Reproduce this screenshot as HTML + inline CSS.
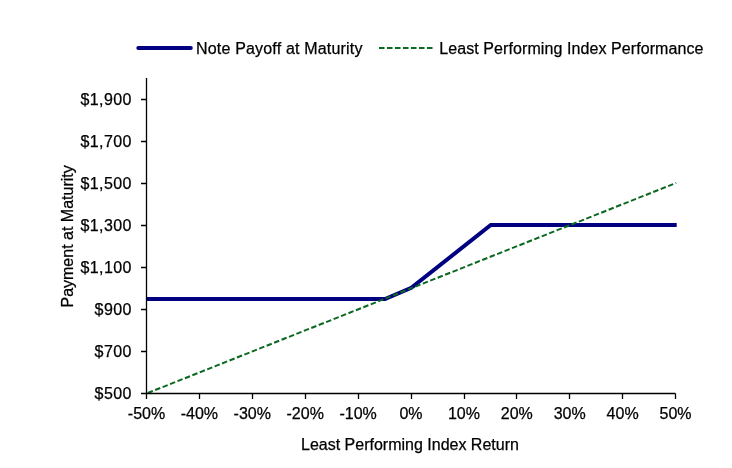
<!DOCTYPE html><html><head><meta charset="utf-8"><style>html,body{margin:0;padding:0;background:#fff;width:732px;height:468px;overflow:hidden}svg{display:block;will-change:transform}text{font-family:"Liberation Sans",sans-serif;fill:#000;stroke:#000;stroke-width:0.25px}</style></head><body>
<svg width="732" height="468" viewBox="0 0 732 468">
<rect width="732" height="468" fill="#fff"/>
<text x="131.8" y="399.1" font-size="16" letter-spacing="0.4" text-anchor="end">$500</text>
<text x="131.8" y="357.1" font-size="16" letter-spacing="0.4" text-anchor="end">$700</text>
<text x="131.8" y="315.1" font-size="16" letter-spacing="0.4" text-anchor="end">$900</text>
<text x="131.8" y="273.1" font-size="16" letter-spacing="0.4" text-anchor="end">$1,100</text>
<text x="131.8" y="231.1" font-size="16" letter-spacing="0.4" text-anchor="end">$1,300</text>
<text x="131.8" y="189.1" font-size="16" letter-spacing="0.4" text-anchor="end">$1,500</text>
<text x="131.8" y="147.1" font-size="16" letter-spacing="0.4" text-anchor="end">$1,700</text>
<text x="131.8" y="105.1" font-size="16" letter-spacing="0.4" text-anchor="end">$1,900</text>
<text x="146.5" y="418.6" font-size="16" text-anchor="middle">-50%</text>
<text x="199.4" y="418.6" font-size="16" text-anchor="middle">-40%</text>
<text x="252.3" y="418.6" font-size="16" text-anchor="middle">-30%</text>
<text x="305.2" y="418.6" font-size="16" text-anchor="middle">-20%</text>
<text x="358.1" y="418.6" font-size="16" text-anchor="middle">-10%</text>
<text x="411.0" y="418.6" font-size="16" text-anchor="middle">0%</text>
<text x="463.9" y="418.6" font-size="16" text-anchor="middle">10%</text>
<text x="516.8" y="418.6" font-size="16" text-anchor="middle">20%</text>
<text x="569.7" y="418.6" font-size="16" text-anchor="middle">30%</text>
<text x="622.6" y="418.6" font-size="16" text-anchor="middle">40%</text>
<text x="675.5" y="418.6" font-size="16" text-anchor="middle">50%</text>
<text x="301" y="449.6" font-size="16">Least Performing Index Return</text>
<text transform="translate(72.5 236.4) rotate(-90)" x="0" y="0" font-size="16" text-anchor="middle">Payment at Maturity</text>
<path d="M146.50 299.00L385.00 299.00L411.30 287.80L490.80 225.00L676.70 225.00" stroke="#000080" stroke-width="4" fill="none" stroke-linejoin="miter"/>
<path d="M146.5 393.5L676.2 182.9" stroke="#0b6820" stroke-width="2" stroke-dasharray="5.45 2.55" stroke-dashoffset="-1.34" fill="none"/>
<path d="M146.5 78V393.5H675.5" fill="none" stroke="#000" stroke-width="1.3"/>
<path d="M141 393.5H146.5M141 351.5H146.5M141 309.5H146.5M141 267.5H146.5M141 225.5H146.5M141 183.5H146.5M141 141.5H146.5M141 99.5H146.5M146.5 393.5V399M199.5 393.5V399M252.5 393.5V399M305.5 393.5V399M358.5 393.5V399M411.5 393.5V399M464.5 393.5V399M516.5 393.5V399M569.5 393.5V399M622.5 393.5V399M675.5 393.5V399" fill="none" stroke="#000" stroke-width="1.3"/>
<path d="M138.3 48H190.8" stroke="#000080" stroke-width="4" stroke-linecap="round"/>
<path d="M379 48H433" stroke="#0b6820" stroke-width="2.2" stroke-dasharray="5.5 2.5"/>
<text x="196" y="53.5" font-size="16" letter-spacing="0.18">Note Payoff at Maturity</text>
<text x="439.3" y="53.5" font-size="16" letter-spacing="0.08">Least Performing Index Performance</text>
</svg></body></html>
